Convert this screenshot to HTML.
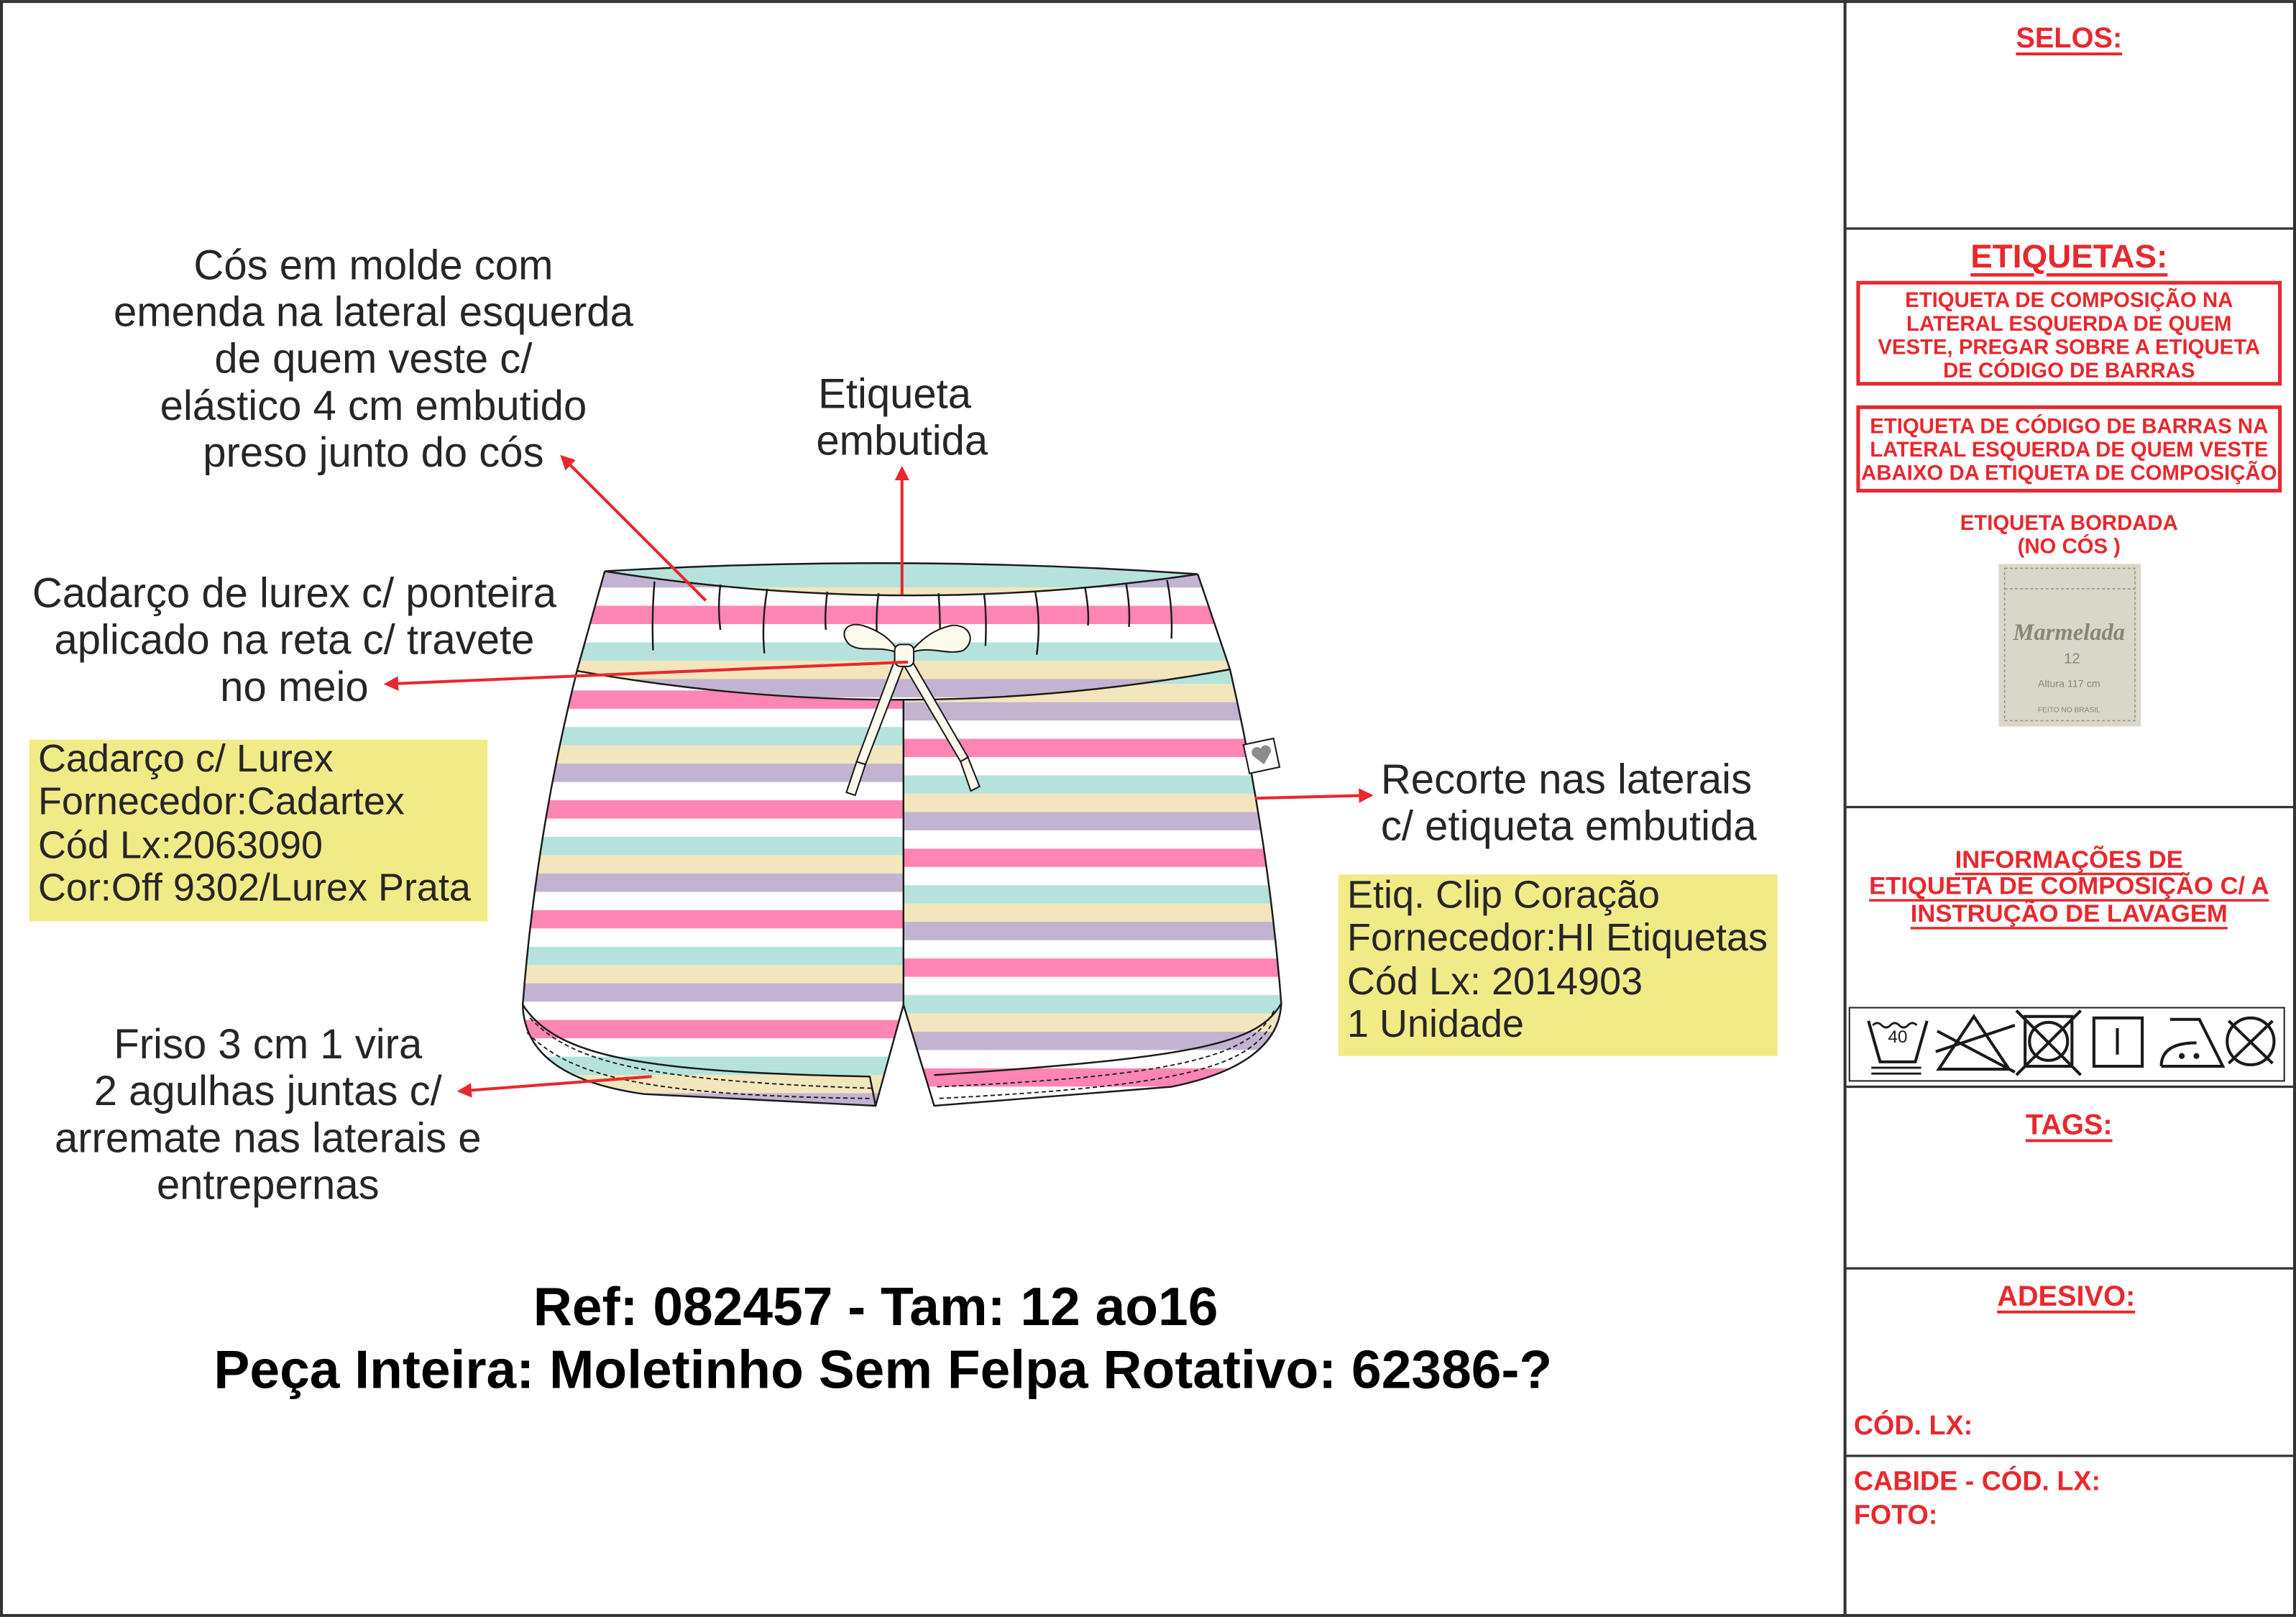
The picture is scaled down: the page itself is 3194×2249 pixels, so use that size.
<!DOCTYPE html>
<html><head><meta charset="utf-8"><style>
html,body{margin:0;padding:0;background:#fff}
svg{display:block}
.t{font-family:"Liberation Sans",sans-serif;fill:#262626;font-size:28.5px}
.y{font-family:"Liberation Sans",sans-serif;fill:#262626;font-size:26.5px}
.r{font-family:"Liberation Sans",sans-serif;fill:#e8282e;font-weight:bold}
</style></head><body>
<svg width="3194" height="2249" viewBox="0 0 1568 1104" xmlns="http://www.w3.org/2000/svg">
<defs>
<pattern id="pL" patternUnits="userSpaceOnUse" x="0" y="471.4" width="2000" height="75">
<rect y="0" width="2000" height="12.5" fill="#ff85b5"/><rect y="12.5" width="2000" height="12.5" fill="#fff"/>
<rect y="25" width="2000" height="12.5" fill="#b5e3dc"/><rect y="37.5" width="2000" height="12.5" fill="#f3e6bd"/>
<rect y="50" width="2000" height="12.5" fill="#c2b4d0"/><rect y="62.5" width="2000" height="12.5" fill="#fff"/>
</pattern>
<pattern id="pW" patternUnits="userSpaceOnUse" x="0" y="413.6" width="2000" height="75">
<rect y="0" width="2000" height="12.5" fill="#ff85b5"/><rect y="12.5" width="2000" height="12.5" fill="#fff"/>
<rect y="25" width="2000" height="12.5" fill="#b5e3dc"/><rect y="37.5" width="2000" height="12.5" fill="#f3e6bd"/>
<rect y="50" width="2000" height="12.5" fill="#c2b4d0"/><rect y="62.5" width="2000" height="12.5" fill="#fff"/>
</pattern>
<pattern id="pR2" patternUnits="userSpaceOnUse" x="0" y="504.4" width="2000" height="75">
<rect y="0" width="2000" height="12.5" fill="#ff85b5"/><rect y="12.5" width="2000" height="12.5" fill="#fff"/>
<rect y="25" width="2000" height="12.5" fill="#b5e3dc"/><rect y="37.5" width="2000" height="12.5" fill="#f3e6bd"/>
<rect y="50" width="2000" height="12.5" fill="#c2b4d0"/><rect y="62.5" width="2000" height="12.5" fill="#fff"/>
</pattern>
<clipPath id="cS"><path d="M413,390 L394,458 Q366,570 357,686 C358,722 390,740 440,747 L598,755 L617,686 L638,755 L800,742 C850,732 874,712 875,685 Q866,570 840,457 L818,392 Z"/></clipPath>
<clipPath id="cW"><path d="M413,390 L394,458 Q617,498 840,457 L818,392 Z"/></clipPath>
<clipPath id="cO"><path d="M413,390 Q617,378 818,392 Q617,422 413,390 Z"/></clipPath>
<marker id="ah" markerWidth="10" markerHeight="10" refX="8" refY="5" orient="auto" markerUnits="userSpaceOnUse"><path d="M0,0 L10,5 L0,10 Z" fill="#e8282e"/></marker>
</defs>
<rect x="1" y="1" width="1566" height="1102" fill="#fff" stroke="#333" stroke-width="2"/>
<line x1="1260" y1="0" x2="1260" y2="1104" stroke="#333" stroke-width="2"/>
<g stroke="#333" stroke-width="1.6">
<line x1="1260" y1="156" x2="1568" y2="156"/><line x1="1260" y1="551" x2="1568" y2="551"/>
<line x1="1260" y1="742" x2="1568" y2="742"/><line x1="1260" y1="866" x2="1568" y2="866"/>
<line x1="1260" y1="994" x2="1568" y2="994"/></g>

<!-- shorts -->
<g clip-path="url(#cS)">
<rect x="340" y="380" width="277" height="390" fill="url(#pL)"/>
<rect x="617" y="380" width="270" height="390" fill="url(#pR2)"/>
<rect x="340" y="380" width="540" height="130" fill="url(#pW)" clip-path="url(#cW)"/>
</g>
<g clip-path="url(#cO)"><rect x="400" y="380" width="430" height="50" fill="#b5e3dc"/><rect x="400" y="401" width="430" height="10" fill="#f3e6bd"/></g>
<g fill="none" stroke="#1a1a1a" stroke-width="1.2">
<path d="M413,390 L394,458 Q366,570 357,686 C358,722 390,740 440,747 L598,755 L617,686 L638,755 L800,742 C850,732 874,712 875,685 Q866,570 840,457 L818,392"/>
<path d="M413,390 Q617,378 818,392 M413,390 Q617,422 818,392"/>
<path d="M394,458 Q617,498 840,457"/>
<path d="M617,478 L617,686"/>
<path d="M357,686 C380,722 440,732 594,735 L598,755"/>
<path d="M875,685 C860,712 820,722 638,734"/>
<path d="M447,397 Q445,420 446,444 M492,399 Q490,415 492,430 M524,402 Q520,425 522,446 M565,404 Q563,420 564,430 M600,405 Q598,420 599,436 M641,405 Q642,420 642,433 M672,405 Q674,420 673,441 M707,404 Q711,425 708,447 M741,401 Q744,418 743,427 M769,398 Q772,415 771,428 M797,396 Q801,415 800,436"/>
<path d="M362,695 C390,725 440,738 595,743 M360,705 C390,735 440,748 595,750" stroke-dasharray="3,2" stroke-width="0.9"/>
<path d="M870,690 C855,722 800,735 640,742 M868,700 C850,730 800,742 640,750" stroke-dasharray="3,2" stroke-width="0.9"/>
</g>
<!-- drawstring -->
<g stroke="#1a1a1a" stroke-width="1" fill="#fdf9ec">
<path d="M612,448 L585,520 L591,522 L618,452 Z"/>
<path d="M621,448 L661,517 L656,520 L616,452 Z"/>
<path d="M585,520 L578,541 L584,543 L591,522 Z"/>
<path d="M661,517 L669,537 L663,540 L656,520 Z"/>
<path d="M614,446 C600,440 588,446 580,440 C573,433 577,424 589,427 C602,431 610,438 614,446 Z"/>
<path d="M621,446 C635,440 647,448 658,444 C667,437 662,426 650,427 C636,430 628,438 621,446 Z"/>
<rect x="611" y="440" width="13" height="15" rx="4"/>
</g>
<!-- heart tag -->
<g transform="rotate(-12 862 516)"><rect x="851" y="506" width="21" height="20" fill="#fff" stroke="#1a1a1a" stroke-width="1"/>
<path d="M862,522 L856,515 A3,3 0 0 1 862,511 A3,3 0 0 1 868,515 Z" fill="#8c8c8c"/></g>

<!-- arrows -->
<g stroke="#e8282e" stroke-width="2" marker-end="url(#ah)">
<line x1="482" y1="410" x2="384" y2="312"/>
<line x1="616" y1="406" x2="616" y2="320"/>
<line x1="620" y1="452" x2="264" y2="467"/>
<line x1="857" y1="545" x2="936" y2="543"/>
<line x1="445" y1="735" x2="314" y2="745"/>
</g>

<!-- text -->
<g class="t" text-anchor="middle" dominant-baseline="central">
<text x="255" y="181">Cós em molde com</text>
<text x="255" y="213">emenda na lateral esquerda</text>
<text x="255" y="245">de quem veste c/</text>
<text x="255" y="277">elástico 4 cm embutido</text>
<text x="255" y="309">preso junto do cós</text>
<text x="611" y="269">Etiqueta</text>
<text x="616" y="301">embutida</text>
<text x="201" y="405">Cadarço de lurex c/ ponteira</text>
<text x="201" y="437">aplicado na reta c/ travete</text>
<text x="201" y="469">no meio</text>
<text x="183" y="713">Friso 3 cm 1 vira</text>
<text x="183" y="745">2 agulhas juntas c/</text>
<text x="183" y="777">arremate nas laterais e</text>
<text x="183" y="809">entrepernas</text>
</g>
<g class="t" dominant-baseline="central">
<text x="943" y="532">Recorte nas laterais</text>
<text x="943" y="564">c/ etiqueta embutida</text>
</g>
<rect x="20" y="505" width="313" height="124" fill="#f1eb87"/>
<rect x="914" y="597" width="300" height="124" fill="#f1eb87"/>
<g class="y" dominant-baseline="central">
<text x="26" y="518">Cadarço c/ Lurex</text>
<text x="26" y="547">Fornecedor:Cadartex</text>
<text x="26" y="577">Cód Lx:2063090</text>
<text x="26" y="606">Cor:Off 9302/Lurex Prata</text>
<text x="920" y="611">Etiq. Clip Coração</text>
<text x="920" y="640">Fornecedor:HI Etiquetas</text>
<text x="920" y="670">Cód Lx: 2014903</text>
<text x="920" y="699">1 Unidade</text>
</g>
<g font-family="Liberation Sans, sans-serif" font-weight="bold" font-size="36.8" fill="#000" text-anchor="middle" dominant-baseline="central">
<text x="598" y="892">Ref: 082457 - Tam: 12 ao16</text>
<text x="603" y="935">Peça Inteira: Moletinho Sem Felpa Rotativo: 62386-?</text>
</g>

<!-- right panel -->
<g class="r" text-anchor="middle" dominant-baseline="central" text-decoration="underline">
<text x="1413" y="26" font-size="19.5">SELOS:</text>
<text x="1413" y="175" font-size="22.5">ETIQUETAS:</text>
<text x="1413" y="768" font-size="19.5">TAGS:</text>
<text x="1411" y="885" font-size="19.5">ADESIVO:</text>
<text x="1413" y="587" font-size="17">INFORMAÇÕES DE</text>
<text x="1413" y="605" font-size="17">ETIQUETA DE COMPOSIÇÃO C/ A</text>
<text x="1413" y="624" font-size="17">INSTRUÇÃO DE LAVAGEM</text>
</g>
<rect x="1269" y="193" width="288" height="69" fill="none" stroke="#e8282e" stroke-width="2.5"/>
<rect x="1269" y="278" width="288" height="57" fill="none" stroke="#e8282e" stroke-width="2.5"/>
<g class="r" text-anchor="middle" dominant-baseline="central" font-size="14.4">
<text x="1413" y="205">ETIQUETA DE COMPOSIÇÃO NA</text>
<text x="1413" y="221">LATERAL ESQUERDA DE QUEM</text>
<text x="1413" y="237">VESTE, PREGAR SOBRE A ETIQUETA</text>
<text x="1413" y="253">DE CÓDIGO DE BARRAS</text>
<text x="1413" y="291" textLength="272" lengthAdjust="spacingAndGlyphs">ETIQUETA DE CÓDIGO DE BARRAS NA</text>
<text x="1413" y="307" textLength="272" lengthAdjust="spacingAndGlyphs">LATERAL ESQUERDA DE QUEM VESTE</text>
<text x="1413" y="323" textLength="284" lengthAdjust="spacingAndGlyphs">ABAIXO DA ETIQUETA DE COMPOSIÇÃO</text>
<text x="1413" y="357">ETIQUETA BORDADA</text>
<text x="1413" y="373">(NO CÓS )</text>
</g>
<g class="r" dominant-baseline="central" font-size="18.5">
<text x="1266" y="973">CÓD. LX:</text>
<text x="1266" y="1011">CABIDE - CÓD. LX:</text>
<text x="1266" y="1034">FOTO:</text>
</g>
<!-- embroidered label -->
<rect x="1365" y="385" width="97" height="111" fill="#d9d7c8"/>
<rect x="1369" y="388" width="89" height="104" fill="none" stroke="#9a9685" stroke-width="0.8" stroke-dasharray="2,1.5"/>
<line x1="1369" y1="402" x2="1458" y2="402" stroke="#9a9685" stroke-width="0.8" stroke-dasharray="2,1.5"/>
<g font-family="Liberation Serif, serif" fill="#8a8676" text-anchor="middle" dominant-baseline="central">
<text x="1413" y="432" font-size="16" font-style="italic" font-weight="bold">Marmelada</text>
<text x="1415" y="450" font-size="10" font-family="Liberation Sans, sans-serif">12</text>
<text x="1413" y="467" font-size="7" font-family="Liberation Sans, sans-serif">Altura 117 cm</text>
<text x="1413" y="485" font-size="5" font-family="Liberation Sans, sans-serif">FEITO NO BRASIL</text>
</g>
<!-- care icons -->
<rect x="1263" y="688" width="297" height="50" fill="#fff" stroke="#222" stroke-width="1"/>
<g fill="none" stroke="#1a1a1a" stroke-width="2">
<path d="M1276,697 L1284,725 L1308,725 L1316,697"/>
<path d="M1279,700 q3,-3 6,0 t6,0 t6,0 t6,0 t6,0" stroke-width="1.4"/>
<path d="M1278,729 L1312,729 M1278,733 L1312,733" stroke-width="1.4"/>
<path d="M1324,730 L1348,694 L1372,730 Z M1322,718 L1376,700 M1323,704 L1376,732"/>
<rect x="1383" y="694" width="32" height="34"/><circle cx="1399" cy="711" r="13"/>
<path d="M1377,690 L1421,734 M1421,690 L1377,734"/>
<rect x="1430" y="695" width="33" height="33"/><path d="M1446,702 L1446,720"/>
<path d="M1476,728 L1518,728 L1502,696 L1482,696 M1476,728 Q1476,712 1500,712"/>
<circle cx="1537" cy="711" r="16"/><path d="M1522,697 L1552,726 M1552,697 L1522,726"/>
</g>
<text x="1296" y="708" font-family="Liberation Sans, sans-serif" font-size="12" text-anchor="middle" dominant-baseline="central" fill="#1a1a1a">40</text>
<circle cx="1490" cy="721" r="2" fill="#1a1a1a"/><circle cx="1500" cy="721" r="2" fill="#1a1a1a"/>
</svg>
</body></html>
